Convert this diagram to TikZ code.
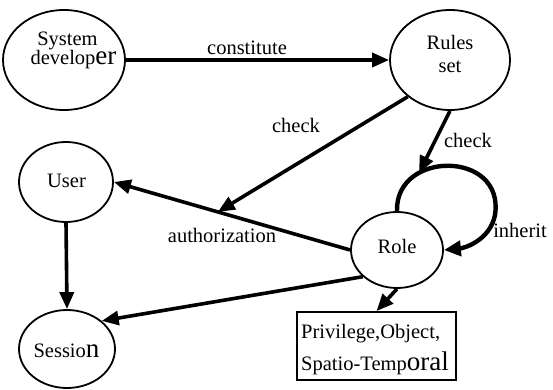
\documentclass[tikz,border=0pt]{standalone}
\usepackage{fontspec}
\setmainfont{Liberation Serif}
\usetikzlibrary{shapes.geometric,arrows.meta,calc}
% a few glyphs are set in a larger size
\newcommand\upsz[1]{{\fontsize{27}{27}\selectfont #1}}
\begin{document}
\begin{tikzpicture}[x=1pt,y=-1pt,
  state/.style={ellipse,draw,line width=1.8pt,inner sep=0pt},
  txt/.style={anchor=base,inner sep=0pt,font=\fontsize{20.5}{20}\selectfont},
  ltxt/.style={txt,anchor=base west},
  flow/.style={line width=3.6pt,-{Triangle[length=17pt,width=14pt]}},
  loopflow/.style={line width=4.4pt,-{Triangle[length=17pt,width=15pt]}}]
\useasboundingbox (0,0) rectangle (553,390);

% states
\node[state,minimum width=122pt,minimum height=100pt] (sd) at (64,60) {};
\node[state,minimum width=120pt,minimum height=100pt] (rs) at (450,60) {};
\node[state,minimum width=94pt,minimum height=80pt] (us) at (66,182) {};
\node[state,minimum width=96pt,minimum height=78pt] (se) at (67,349) {};
\node[state,minimum width=92pt,minimum height=76pt] (ro) at (397,250) {};
\node[draw,line width=1.8pt,minimum width=159pt,minimum height=68pt,inner sep=0pt] (bx) at (376.5,346) {};

% state texts
\node[txt] (sdA) at (67.5,46) {System};
\node[txt] (sdB) at (73.5,64.5) {develop\upsz{er}};
\node[txt] (rsA) at (450,50) {Rules};
\node[txt] (rsB) at (450,73) {set};
\node[txt] (usT) at (66.5,187) {User};
\node[txt] (roT) at (397,253) {Role};
\node[txt] (seT) at (66.5,357) {Sessio\upsz{n}};
\node[ltxt] (bxA) at (301,338) {Privilege,Object,};
\node[ltxt] (bxB) at (301,370.5) {Spatio-Temp\upsz{oral}};

% connectors
\draw[flow] (sd.east) -- (rs.west);
\draw[flow] (ro.west) -- (us.east);
\coordinate (am) at ($(ro.west)!0.56!(us.east)$);
\draw[flow] (rs.221) -- (am);
\draw[flow] (us.south) -- (se.north);
\draw[flow] (ro.218) -- (se.39);
\draw[flow] (ro.south) -- (bx.north);
\draw[loopflow] (ro.north) .. controls (395,150) and (505,150) .. (495,215)
  .. controls (490,240) and (465,248) .. (ro.east);
\coordinate (lp) at (419,173);
\draw[flow] (rs.south) -- (lp);

% connector labels
\node[txt] (lc) at (247,55) {constitute};
\node[txt] (lk1) at (296,132) {check};
\node[txt] (lk2) at (468,147) {check};
\node[txt] (li) at (520,237) {inherit};
\node[txt] (la) at (222,242) {authorization};
\end{tikzpicture}
\end{document}
